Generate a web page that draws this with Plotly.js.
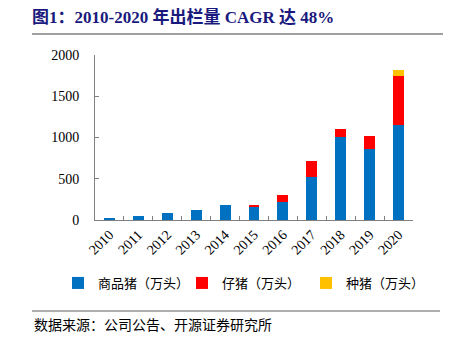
<!DOCTYPE html>
<html>
<head>
<meta charset="utf-8">
<script src="https://cdn.plot.ly/plotly-3.0.1.min.js"></script>
<style>html,body{margin:0;padding:0;background:#fff;}</style>
</head>
<body>
<div id="chart" style="width:449px;height:344px;"></div>
<script>
var years = ['2010','2011','2012','2013','2014','2015','2016','2017','2018','2019','2020'];
var commercial = [26, 48, 88, 120, 183, 161, 213, 520, 1008, 863, 1150];
var piglets    = [0, 0, 0, 5, 0, 26, 95, 200, 90, 160, 595];
var breeding   = [0, 0, 0, 0, 0, 0, 0, 0, 0, 0, 68];
var seriesNames = ['商品猪（万头）', '仔猪（万头）', '种猪（万头）'];
var titleText = '图1：2010-2020 年出栏量 CAGR 达 48%';
var sourceText = '数据来源：公司公告、开源证券研究所';
var yTicks = [0, 500, 1000, 1500, 2000];

var serif = '"Times New Roman", "Liberation Serif", "Noto Sans CJK SC", serif';
var cjk = '"Liberation Serif", "Noto Sans CJK SC", serif';

var traces = [
  {type:'bar', x:years, y:commercial, name:seriesNames[0], marker:{color:'#0070C0'}},
  {type:'bar', x:years, y:piglets, name:seriesNames[1], marker:{color:'#FF0000'}},
  {type:'bar', x:years, y:breeding, name:seriesNames[2], marker:{color:'#FFC000'}}
];

var W = 449, H = 344, ml = 95, mr = 36, mt = 55, mb = 124;
var pw = W - ml - mr, ph = H - mt - mb;
function px(x){ return (x - ml) / pw; }
function py(y){ return (H - mb - y) / ph; }

var layout = {
  width: W, height: H,
  margin: {l: ml, r: mr, t: mt, b: mb},
  paper_bgcolor: '#fff', plot_bgcolor: '#fff',
  barmode: 'stack',
  bargap: 0.62,
  showlegend: true,
  legend: {orientation:'h', xref:'paper', yref:'paper', x: px(58), xanchor:'left',
           y: py(283), yanchor:'middle', traceorder:'normal',
           entrywidth: 79, entrywidthmode: 'pixels',
           font:{family: cjk, size: 13, color:'#000'}, itemwidth: 30},
  title: {text: '<b>' + titleText + '</b>', xref:'container', yref:'container',
          x: 32/W, xanchor:'left', y: 1 - 17/H, yanchor:'middle',
          font:{family: serif, size: 17, color:'#1a1a7e'}},
  xaxis: {type:'category', tickangle:-45, ticks:'inside', tickson:'boundaries', ticklen:4,
          tickcolor:'#808080', showline:true, linecolor:'#808080', linewidth:1,
          tickfont:{family: serif, size: 14, color:'#000'}, showgrid:false, zeroline:false},
  yaxis: {range:[0, 2000], tickvals: yTicks, ticks:'inside', ticklen:4, tickcolor:'#808080',
          showline:true, linecolor:'#808080', linewidth:1, showgrid:false, zeroline:false,
          tickfont:{family: serif, size: 14, color:'#000'}, ticklabelstandoff: 12},
  shapes: [
    {type:'line', xref:'paper', yref:'paper', x0:px(32), x1:px(443), y0:py(34), y1:py(34),
     line:{color:'#a0a0a0', width:2}},
    {type:'line', xref:'paper', yref:'paper', x0:px(32), x1:px(440), y0:py(311), y1:py(311),
     line:{color:'#606060', width:1}}
  ],
  annotations: [
    {text: sourceText, xref:'paper', yref:'paper', x: px(32), xanchor:'left', y: py(325), yanchor:'middle',
     showarrow:false, font:{family: cjk, size: 14, color:'#000'}}
  ]
};

Plotly.newPlot('chart', traces, layout, {displayModeBar:false, staticPlot:true});
</script>
</body>
</html>
